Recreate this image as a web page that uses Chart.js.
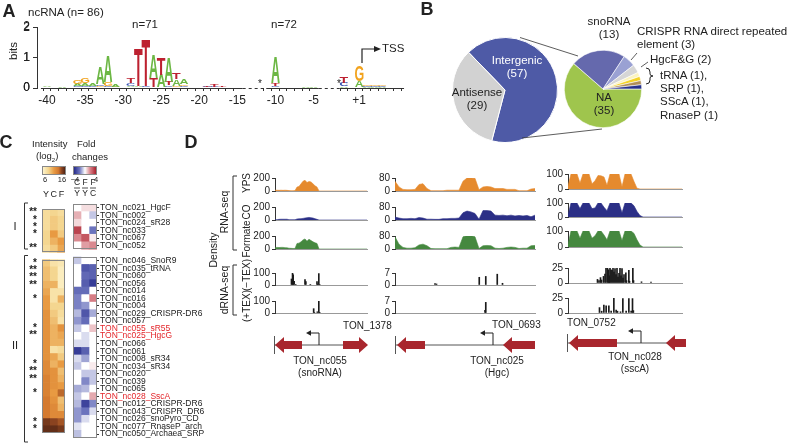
<!DOCTYPE html>
<html>
<head>
<meta charset="utf-8">
<script src="https://cdn.jsdelivr.net/npm/chart.js@4.4.1/dist/chart.umd.min.js"></script>
<style>
  html, body { margin: 0; padding: 0; }
  body { width: 787px; height: 443px; position: relative; overflow: hidden; background: #fff;
         font-family: 'Liberation Sans', Arial, sans-serif; color: #222; }
  canvas { position: absolute; }
  .t { position: absolute; white-space: nowrap; line-height: 1.15; z-index: 2; text-align: center; }
  .cbar { position: absolute; box-sizing: border-box; border: 1px solid #888; }
  #deco { position: absolute; left: 0; top: 0; z-index: 1; }
</style>
</head>
<body>
<svg id="deco" width="787" height="443"></svg>
<script>
// ---- A: promoter motif (bits per position) ----
const logoPos = [-40, -38, -36, -35, -34, -33, -32, -31, -29, -28, -27, -26, -25, -24, -23, -22, -19, -18, -17, -10, -6, -5, -1, 1, 2, 3, 4];
const logoA = [0.02, 0.03, 0.06, 0.08, 0.08, 0.55, 0.85, 0.10, 0.05, 0.04, 0.02, 0.75, 0.42, 0.82, 0.20, 0.15, 0.02, 0.02, 0.02, 0.85, 0.04, 0.03, 0.05, 0.20, 0.02, 0.02, 0.02];
const logoC = [0.01, 0.00, 0.05, 0.06, 0.03, 0.06, 0.05, 0.02, 0.10, 0.03, 0.03, 0.02, 0.02, 0.06, 0.03, 0.05, 0.02, 0.02, 0.00, 0.05, 0.00, 0.00, 0.12, 0.02, 0.02, 0.02, 0.02];
const logoG = [0.00, 0.01, 0.12, 0.18, 0.02, 0.04, 0.12, 0.02, 0.03, 0.00, 0.00, 0.00, 0.00, 0.03, 0.05, 0.06, 0.00, 0.00, 0.00, 0.00, 0.01, 0.01, 0.00, 0.50, 0.02, 0.02, 0.02];
const logoT = [0.01, 0.00, 0.02, 0.02, 0.00, 0.03, 0.03, 0.00, 0.15, 1.25, 1.55, 0.30, 0.55, 0.12, 0.20, 0.02, 0.05, 0.07, 0.05, 0.10, 0.00, 0.00, 0.22, 0.00, 0.01, 0.01, 0.01];
const logoTicks = [-40, -35, -30, -25, -20, -15, -10, -5, 1];
const bitTicks = [0, 1, 2];

// ---- B: ncRNA classes ----
const typeLabels = ['Intergenic', 'Antisense'];
const typeCounts = [57, 29];
const classLabels = ['NA', 'snoRNA', 'CRISPR RNA direct repeated element', 'HgcF&G', 'tRNA', 'SRP', 'SScA', 'RnaseP'];
const classCounts = [35, 13, 3, 2, 1, 1, 1, 1];

// ---- C: heatmap rows ----
const groupI = ['TON_nc021_HgcF', 'TON_nc002', 'TON_nc024_sR28', 'TON_nc033', 'TON_nc067', 'TON_nc052'];
const groupII = ['TON_nc046_SnoR9', 'TON_nc035_tRNA', 'TON_nc060', 'TON_nc056', 'TON_nc014', 'TON_nc016', 'TON_nc004',
  'TON_nc029_CRISPR-DR6', 'TON_nc057', 'TON_nc055_sR55', 'TON_nc025_HgcG', 'TON_nc066', 'TON_nc061', 'TON_nc008_sR34',
  'TON_nc034_sR34', 'TON_nc020', 'TON_nc039', 'TON_nc065', 'TON_nc028_SscA', 'TON_nc012_CRISPR-DR6',
  'TON_nc043_CRISPR_DR6', 'TON_nc026_snoPyro_CD', 'TON_nc077_RnaseP_arch', 'TON_nc050_Archaea_SRP'];
const starsI = ['**', '*', '*', '*', '', '**'];
const starsII = ['*', '**', '**', '**', '', '*', '', '', '', '*', '**', '', '', '', '*', '**', '**', '', '*', '', '', '', '*', '*'];
const redRows = ['TON_nc055_sR55', 'TON_nc025_HgcG', 'TON_nc028_SscA'];
// log2 intensity: YPS, CO, Formate
const intY = [8, 8, 8, 8.5, 8.5, 8, 9, 9.5, 9.5, 10, 10.5, 11, 11, 11.5, 11.5, 11.5, 11.5, 11.5, 11.5, 11.5, 12, 12, 12.5, 12.5, 12.5, 13, 13, 13, 15, 15.5];
const intC = [8.5, 9, 9, 11, 10, 9, 7.5, 8.5, 8.5, 10, 7.5, 7.5, 8.5, 9, 9.5, 10, 10, 10, 7.5, 10.5, 10, 11.5, 11.5, 11.5, 11, 11.5, 12, 12, 14.5, 15.5];
const intF = [8, 8.5, 8.5, 9, 11, 10.5, 7, 6.5, 6.5, 6.5, 7.5, 10, 8.5, 8, 7.5, 11.5, 10.5, 10, 8, 9, 11, 9.5, 10, 11, 13.5, 9.5, 10, 12, 14, 15];
// log2 fold changes: C/Y, F/Y, F/C
const foldCY = [0, 1.2, 0.6, 3.2, 1.8, 0, -0.8, 0, 0, 0, -2.2, -1.8, -1.8, -1, -1.5, -0.8, 0, -0.5, -3.5, -0.5, -0.8, 0, 0, -1.2, -0.8, -1, -1.5, -1.5, -0.4, -0.9];
const foldFY = [0.5, 0, 0, 0, 2.8, 1.5, 0, -2.8, -2.3, -2.6, -2.2, 0, -1.5, -2.8, -2.2, 0, -0.5, -0.5, -2.5, -1.3, 0, -0.8, -1.7, -1, 0, -3.3, -2, -0.5, 0, 0];
const foldFC = [0.5, -0.8, 0, -2, 0.3, 1.8, 0, -2.5, -2.5, -3.5, 0, 2, 0, -1.2, 0, 0.9, 0, 0, 0, 0, 0.3, -0.8, -0.8, 0, 1.3, -1.7, -0.5, 0, 0, 0];

// ---- D: coverage tracks (x = relative position along the locus) ----
const c1YPS = [12, 12, 10, 12, 10, 12, 10, 6, 5, 5, 6, 60, 70, 110, 150, 165, 130, 145, 140, 110, 80, 60, 0, 0, 0, 0, 0, 0, 0, 0, 0, 0, 0, 0, 0, 0, 0, 0, 0, 0, 0, 0, 0, 0, 0, 0, 0];
const c1CO = [5, 5, 10, 12, 12, 12, 12, 5, 5, 5, 5, 15, 18, 20, 25, 30, 35, 40, 35, 30, 20, 10, 0, 0, 0, 0, 0, 0, 0, 0, 0, 0, 0, 0, 0, 0, 0, 0, 0, 0, 0, 0, 0, 0, 0, 0, 0];
const c1Form = [20, 25, 22, 25, 25, 20, 18, 12, 10, 8, 8, 85, 90, 110, 140, 155, 120, 150, 130, 110, 95, 85, 0, 0, 0, 0, 0, 0, 0, 0, 0, 0, 0, 0, 0, 0, 0, 0, 0, 0, 0, 0, 0, 0, 0, 0, 0];
const c1MinusPos = [1.7, 3.3, 4.3, 5.7, 8, 22, 23.3, 30, 40, 41, 42.7, 44];
const c1MinusVal = [50, 100, 85, 30, 5, 45, 28, 5, 28, 8, 95, 4];
const c1PlusPos = [35, 36, 40.5, 42.7, 44];
const c1PlusVal = [36, 5, 10, 100, 6];

const c2YPS = [60, 25, 10, 8, 8, 10, 40, 45, 15, 2, 2, 2, 2, 5, 5, 5, 5, 60, 80, 80, 78, 8, 25, 28, 25, 15, 15, 15, 10, 10, 10, 2, 2, 2, 12, 15];
const c2CO = [18, 12, 8, 8, 10, 8, 15, 12, 5, 5, 4, 4, 8, 8, 10, 10, 12, 45, 55, 50, 40, 5, 58, 58, 55, 30, 28, 30, 26, 30, 25, 28, 25, 28, 20, 30];
const c2Form = [75, 30, 10, 5, 5, 8, 25, 30, 20, 3, 2, 2, 2, 2, 10, 12, 10, 75, 82, 82, 75, 3, 20, 22, 20, 5, 3, 5, 10, 12, 10, 3, 5, 5, 20, 22];
const c2MinusPos = [30, 32, 89, 97.7, 113, 120];
const c2MinusVal = [0.8, 0.6, 4.5, 5, 6.3, 1];
const c2PlusPos = [96.7, 97.7];
const c2PlusVal = [1.5, 6.2];

const c3YPS = [20, 100, 100, 100, 40, 100, 100, 100, 35, 55, 90, 88, 80, 25, 100, 100, 100, 100, 15, 100, 100, 100, 50, 5, 0, 0, 0, 0, 0, 0, 0, 0, 0, 0, 0, 0, 0, 0, 0];
const c3CO = [15, 100, 100, 100, 60, 100, 100, 100, 60, 65, 100, 100, 70, 45, 100, 100, 100, 100, 30, 100, 100, 100, 80, 40, 10, 0, 0, 0, 0, 0, 0, 0, 0, 0, 0, 0, 0, 0, 0];
const c3Form = [15, 100, 100, 100, 55, 100, 100, 100, 55, 70, 100, 100, 75, 45, 100, 100, 100, 100, 40, 100, 100, 100, 85, 45, 12, 0, 0, 0, 0, 0, 0, 0, 0, 0, 0, 0, 0, 0, 0];
const c3MinusPos = [2, 5, 8, 10, 14, 17, 19, 22, 24, 25.5, 27, 29, 31, 33, 35, 37, 39, 41, 43, 45, 47, 49, 51, 53, 55, 58.7, 60, 64.7, 66, 72.7, 74, 90, 109];
const c3MinusVal = [6, 4, 9, 5, 11, 15, 25, 25, 22, 12, 25, 22, 21, 25, 18, 24, 14, 25, 10, 16, 25, 12, 24, 8, 14, 17, 4, 21, 3, 25, 4, 2, 1.5];
const c3PlusPos = [6, 10.3, 14.7, 19.3, 24.7, 29.3, 34.7, 39.3, 42, 48, 52.7, 59.3, 64.7, 69.3, 72, 73.7];
const c3PlusVal = [9, 3, 13, 12, 12, 3, 25, 5, 3, 2, 24, 3, 24, 3, 24, 4];

const trackMax = [[200, 200, 200, 100, 100], [80, 80, 80, 7, 7], [100, 100, 100, 25, 25]];

// ------------------------------------------------------------------
const FONT = "'Liberation Sans', Arial, sans-serif";
Chart.defaults.font.family = FONT;
Chart.defaults.color = '#222';

function base(opts) {
  return Object.assign({
    responsive: false, animation: false, devicePixelRatio: 1,
    plugins: { legend: { display: false }, tooltip: { enabled: false } }
  }, opts);
}

function canvasAt(x, y, w, h) {
  const c = document.createElement('canvas');
  c.width = w; c.height = h;
  c.style.left = x + 'px'; c.style.top = y + 'px';
  document.body.appendChild(c);
  return c.getContext('2d');
}

function label(html, x, y, size, opts = {}) {
  const d = document.createElement('div');
  d.className = 't';
  d.innerHTML = html;
  d.style.left = x + 'px'; d.style.top = y + 'px'; d.style.fontSize = size + 'px';
  const tx = opts.align === 'left' ? '0' : opts.align === 'right' ? '-100%' : '-50%';
  d.style.transform = `translate(${tx},-50%)` + (opts.rot ? ` rotate(${opts.rot}deg)` : '');
  if (opts.align === 'left') d.style.textAlign = 'left';
  if (opts.color) d.style.color = opts.color;
  if (opts.bold) d.style.fontWeight = 'bold';
  document.body.appendChild(d);
}

// ================= A =================
const logoColor = { A: '#6cb744', C: '#3651b0', G: '#f2a31e', T: '#bd2130' };
const stacks = [[], [], [], []];
logoPos.forEach((p, i) => {
  [['A', logoA[i]], ['C', logoC[i]], ['G', logoG[i]], ['T', logoT[i]]]
    .sort((a, b) => a[1] - b[1])
    .forEach(([l, v], r) => stacks[r].push({ x: p, y: v, l }));
});

// paint each stacked bar as a stretched nucleotide letter
const letterPlugin = {
  id: 'letters',
  afterDatasetsDraw(chart) {
    const ctx = chart.ctx;
    ctx.save();
    ctx.font = 'bold 100px ' + FONT;
    ctx.textAlign = 'left';
    ctx.textBaseline = 'alphabetic';
    chart.data.datasets.forEach((ds, d) => {
      chart.getDatasetMeta(d).data.forEach((bar, i) => {
        const { x, y, base: b, width } = bar.getProps(['x', 'y', 'base', 'width'], true);
        const h = b - y;
        if (h < 0.4) return;
        const l = ds.data[i].l;
        const m = ctx.measureText(l);
        const gw = m.actualBoundingBoxLeft + m.actualBoundingBoxRight;
        const gh = m.actualBoundingBoxAscent + m.actualBoundingBoxDescent;
        ctx.save();
        ctx.translate(x - width / 2, y);
        ctx.scale(width / gw, h / gh);
        ctx.fillStyle = logoColor[l];
        ctx.fillText(l, m.actualBoundingBoxLeft, m.actualBoundingBoxAscent);
        ctx.restore();
      });
    });
    // x axis with dashed gaps where the spacer varies
    const xs = chart.scales.x, ys = chart.scales.y;
    const yb = Math.round(ys.getPixelForValue(0)) + 0.5;
    const seg = (a, b2, dash) => {
      ctx.beginPath(); ctx.setLineDash(dash);
      ctx.moveTo(xs.getPixelForValue(a), yb); ctx.lineTo(xs.getPixelForValue(b2), yb); ctx.stroke();
    };
    ctx.strokeStyle = '#333'; ctx.lineWidth = 1;
    seg(xs.min, -14.3, []); seg(-14.3, -11.2, [3, 3]); seg(-11.2, -4.3, []); seg(-4.3, -1.6, [3, 3]); seg(-1.6, xs.max, []);
    ctx.setLineDash([]);
    ctx.restore();
  }
};

const inGap = v => (v > -14.5 && v < -11) || (v > -4.5 && v < -1);
const logoChart = new Chart(canvasAt(0, 17, 410, 89), {
  type: 'bar',
  data: { datasets: stacks.map(r => ({ data: r, backgroundColor: 'rgba(0,0,0,0)', barThickness: 8.5, borderWidth: 0 })) },
  options: base({
    layout: { padding: { top: 9, right: 2 } },
    scales: {
      x: {
        type: 'linear', stacked: true, min: -40.8, max: 6.9,
        afterFit(s) { s.height = 18; },
        ticks: {
          stepSize: 1, autoSkip: false, maxRotation: 0, includeBounds: false, padding: 2,
          font: { size: 12 }, color: '#222',
          callback: v => { const r = Math.round(v); return logoTicks.includes(r) ? (r > 0 ? '+' + r : String(r)) : ''; }
        },
        grid: { drawOnChartArea: false, tickLength: 3, color: c => (c.tick && inGap(c.tick.value)) ? 'rgba(0,0,0,0)' : '#333' },
        border: { display: false }
      },
      y: {
        stacked: true, min: 0, max: 2,
        afterFit(s) { s.width = 37; },
        afterBuildTicks(s) { s.ticks = bitTicks.map(value => ({ value })); },
        ticks: { autoSkip: false, font: { size: 12 }, color: '#222', padding: 3 },
        grid: { drawOnChartArea: false, tickLength: 4, color: '#333' },
        border: { color: '#333' }
      }
    }
  }),
  plugins: [letterPlugin]
});
// bit labels placed on the y scale positions (kept as page text so they stay on top)
bitTicks.forEach(v => label(String(v), 30, 17 + logoChart.scales.y.getPixelForValue(v), 12, { align: 'right' }));

label('A', 9, 11, 18, { bold: true });
label('ncRNA (n= 86)', 28, 13, 11.5, { align: 'left' });
label('n=71', 145, 25, 11.5);
label('n=72', 284, 25, 11.5);
label('bits', 14, 51, 11.5, { rot: -90 });
label('*', 260, 84, 10);
label('*', 339, 84, 10);
label('TSS', 382, 49, 11.5, { align: 'left' });

// ================= B =================
new Chart(canvasAt(450, 35, 110, 110), {
  type: 'pie',
  data: { labels: typeLabels, datasets: [{ data: typeCounts, backgroundColor: ['#4e5aa6', '#d2d2d2'], borderColor: '#fff', borderWidth: 1 }] },
  options: base({ rotation: 316, layout: { padding: 2 } })
});
new Chart(canvasAt(562, 48, 82, 82), {
  type: 'pie',
  data: {
    labels: classLabels,
    datasets: [{
      data: classCounts,
      backgroundColor: ['#9fc54d', '#6569ad', '#9aa1d3', '#d6d6d6', '#fbf3c0', '#f3d226', '#b08f58', '#27318c'],
      borderColor: '#fff', borderWidth: 0.6
    }]
  },
  options: base({ rotation: 90, layout: { padding: 2 } })
});

label('B', 427, 9, 18, { bold: true });
label(`${typeLabels[0]}<br>(${typeCounts[0]})`, 517, 67, 11.5, { color: '#fff' });
label(`${typeLabels[1]}<br>(${typeCounts[1]})`, 477, 99, 11.5);
label(`${classLabels[0]}<br>(${classCounts[0]})`, 604, 104, 11.5);
label(`${classLabels[1]}<br>(${classCounts[1]})`, 609, 28, 11.5);
label(`CRISPR RNA direct repeated<br>element (${classCounts[2]})`, 637, 38, 11.5, { align: 'left' });
label(`${classLabels[3].replace('&', '&amp;')} (${classCounts[3]})`, 650, 60, 11.5, { align: 'left' });
label(`${classLabels[4]} (${classCounts[4]}),<br>${classLabels[5]} (${classCounts[5]}),<br>${classLabels[6]} (${classCounts[6]}),<br>${classLabels[7]} (${classCounts[7]})`,
  660, 95, 11.5, { align: 'left' });

// ================= C =================
const rows = [...groupI, '', ...groupII];
const stars = [...starsI, '', ...starsII];
const withGap = arr => [...arr.slice(0, groupI.length), null, ...arr.slice(groupI.length)];

function ramp(stops, t) {
  t = Math.max(0, Math.min(1, t));
  for (let i = 1; i < stops.length; i++) {
    if (t <= stops[i][0]) {
      const [t0, c0] = stops[i - 1], [t1, c1] = stops[i];
      const f = (t - t0) / (t1 - t0);
      const rgb = [0, 1, 2].map(k => Math.round(c0[k] + (c1[k] - c0[k]) * f));
      return `rgb(${rgb.join(',')})`;
    }
  }
  return `rgb(${stops[stops.length - 1][1].join(',')})`;
}
const intStops = [[0, [253, 243, 203]], [0.25, [244, 214, 144]], [0.5, [232, 154, 66]], [0.7, [212, 122, 48]], [0.85, [138, 67, 32]], [1, [78, 36, 20]]];
const foldStops = [[0, [38, 43, 138]], [0.25, [107, 115, 189]], [0.5, [255, 255, 255]], [0.75, [214, 124, 132]], [1, [168, 31, 44]]];
const intColor = v => v == null ? 'rgba(0,0,0,0)' : ramp(intStops, (v - 6) / 10);
const foldColor = v => v == null ? 'rgba(0,0,0,0)' : ramp(foldStops, (v + 4) / 8);

const groupBox = {
  id: 'groupBox',
  afterDatasetsDraw(chart) {
    const ys = chart.scales.y, a = chart.chartArea, ctx = chart.ctx;
    const step = ys.getPixelForValue(1) - ys.getPixelForValue(0);
    ctx.save(); ctx.strokeStyle = '#888'; ctx.lineWidth = 1;
    [[0, groupI.length - 1], [groupI.length + 1, rows.length - 1]].forEach(([s, e]) => {
      const t = ys.getPixelForValue(s) - step / 2, b = ys.getPixelForValue(e) + step / 2;
      ctx.strokeRect(a.left + 0.5, Math.round(t) + 0.5, a.right - a.left - 1, Math.round(b - t) - 1);
    });
    ctx.restore();
  }
};

function heatDatasets(cols, colorFn) {
  return cols.map(arr => ({
    data: withGap(arr).map(v => v == null ? null : 1),
    backgroundColor: withGap(arr).map(colorFn),
    barPercentage: 1, categoryPercentage: 1, borderWidth: 0
  }));
}

new Chart(canvasAt(0, 198, 66, 246), {
  type: 'bar',
  data: { labels: rows, datasets: heatDatasets([intY, intC, intF], intColor) },
  options: base({
    indexAxis: 'y',
    layout: { padding: { top: 4.5, right: 1 } },
    scales: {
      x: { stacked: true, display: false, min: 0, max: 3 },
      y: {
        stacked: true, afterFit(s) { s.width = 42; },
        grid: { display: false, drawTicks: false }, border: { display: false },
        ticks: { autoSkip: false, padding: 5, font: { size: 10, weight: 'bold' }, color: '#222', callback: (v, i) => stars[i] }
      }
    }
  }),
  plugins: [groupBox]
});

new Chart(canvasAt(66, 198, 160, 246), {
  type: 'bar',
  data: { labels: rows, datasets: heatDatasets([foldCY, foldFY, foldFC], foldColor) },
  options: base({
    indexAxis: 'y',
    layout: { padding: { top: 4.5, left: 7 } },
    scales: {
      x: { stacked: true, display: false, min: 0, max: 3 },
      y: {
        stacked: true, position: 'right', afterFit(s) { s.width = 129; },
        grid: { drawOnChartArea: false, offset: false, tickLength: 2, color: c => rows[c.index] ? '#333' : 'rgba(0,0,0,0)' },
        border: { display: false },
        ticks: {
          autoSkip: false, padding: 1, font: { size: 8.5 },
          color: c => redRows.includes(rows[c.index]) ? '#e3262b' : '#222',
          callback: (v, i) => rows[i]
        }
      }
    }
  }),
  plugins: [groupBox]
});

label('C', 6, 142, 18, { bold: true });
label('Intensity', 32, 144, 9.5, { align: 'left' });
label('(log<sub style="font-size:6px">2</sub>)', 36, 157, 9.5, { align: 'left' });
label('Fold', 77, 144, 9.5, { align: 'left' });
label('changes', 72, 157, 9.5, { align: 'left' });
function cbar(x, y, w, h, grad) {
  const d = document.createElement('div');
  d.className = 'cbar';
  Object.assign(d.style, { left: x + 'px', top: y + 'px', width: w + 'px', height: h + 'px', background: grad });
  document.body.appendChild(d);
}
cbar(42, 166, 24, 9, 'linear-gradient(to right, rgb(253,243,203), rgb(244,214,144) 25%, rgb(232,154,66) 50%, rgb(212,122,48) 70%, rgb(138,67,32) 85%, rgb(78,36,20))');
cbar(73, 166, 24, 9, 'linear-gradient(to right, rgb(38,43,138), rgb(107,115,189) 25%, #fff 50%, rgb(214,124,132) 75%, rgb(168,31,44))');
label('6', 45, 180, 7.5); label('16', 62, 180, 7.5);
label('\u22124', 75, 180, 7.5); label('4', 96, 180, 7.5);
['Y', 'C', 'F'].forEach((s, i) => label(s, 46 + i * 7.7, 194, 9));
['C', 'F', 'F'].forEach((s, i) => label(s, 77 + i * 8, 183, 8.5));
['Y', 'Y', 'C'].forEach((s, i) => label(s, 77 + i * 8, 193.5, 8.5));
label('I', 15, 226, 11);
label('II', 15, 345, 11);

// ================= D =================
const colLeft = [275, 395, 568];
const colWidth = [92, 140, 114];
const trackTop = [[177, 206, 235, 272, 300], [177, 206, 235, 272, 300], [173, 202, 230, 267, 297]];
const trackBase = [[192, 221, 250, 286, 314], [192, 221, 250, 286, 314], [190, 218, 248, 284, 314]];
const trackColor = ['#e58a2e', '#2b2f86', '#45883f', '#1a1a1a', '#1a1a1a'];
const PAD = 7;

function track(ci, ti, type, xs, ys) {
  const x0 = colLeft[ci], w = colWidth[ci];
  const top = trackTop[ci][ti], bot = trackBase[ci][ti], max = trackMax[ci][ti];
  const color = trackColor[ti];
  const pts = xs.map((x, i) => ({ x, y: ys[i] }));
  const ds = type === 'line'
    ? { data: pts, fill: 'origin', backgroundColor: color, borderColor: color, borderWidth: 0.6, pointRadius: 0, tension: 0 }
    : { data: pts, backgroundColor: color, barThickness: 1, borderWidth: 0 };
  new Chart(canvasAt(x0 - 30, top - PAD, w + 32, bot - top + 2 * PAD), {
    type,
    data: { datasets: [ds] },
    options: base({
      layout: { padding: { top: PAD, right: 2, bottom: PAD } },
      scales: {
        x: { type: 'linear', min: 0, max: w, ticks: { display: false }, grid: { display: false }, border: { color: '#999' }, afterFit(s) { s.height = 0; } },
        y: {
          min: 0, max,
          afterBuildTicks(s) { s.ticks = [{ value: 0 }, { value: max }]; },
          afterFit(s) { s.width = 30; },
          ticks: { autoSkip: false, font: { size: 10 }, padding: 2, color: '#222' },
          grid: { drawOnChartArea: false, tickLength: 3, color: '#333' },
          border: { color: '#333' }
        }
      }
    })
  });
}
const idx = (arr, w) => arr.map((_, i) => i * w / (arr.length - 1));
[[c1YPS, c1CO, c1Form, c1MinusPos, c1MinusVal, c1PlusPos, c1PlusVal],
 [c2YPS, c2CO, c2Form, c2MinusPos, c2MinusVal, c2PlusPos, c2PlusVal],
 [c3YPS, c3CO, c3Form, c3MinusPos, c3MinusVal, c3PlusPos, c3PlusVal]].forEach((c, ci) => {
  track(ci, 0, 'line', idx(c[0], colWidth[ci]), c[0]);
  track(ci, 1, 'line', idx(c[1], colWidth[ci]), c[1]);
  track(ci, 2, 'line', idx(c[2], colWidth[ci]), c[2]);
  track(ci, 3, 'bar', c[3], c[4]);
  track(ci, 4, 'bar', c[5], c[6]);
});

label('D', 191, 142, 18, { bold: true });
label('Density', 213, 250, 10.5, { rot: -90 });
label('RNA-seq', 224, 212, 10.5, { rot: -90 });
label('dRNA-seq', 224, 290, 10.5, { rot: -90 });
label('YPS', 247, 183, 10, { rot: -90 });
label('CO', 247, 212, 10, { rot: -90 });
label('Formate', 247, 239, 10, { rot: -90 });
label('(\u2212TEX)', 247, 275, 10, { rot: -90 });
label('(+TEX)', 247, 306, 10, { rot: -90 });
label('TON_1378', 343, 326, 10, { align: 'left' });
label('TON_0693', 492, 325, 10, { align: 'left' });
label('TON_0752', 567, 323, 10, { align: 'left' });
label('TON_nc055<br>(snoRNA)', 320, 366, 10);
label('TON_nc025<br>(Hgc)', 497, 366, 10);
label('TON_nc028<br>(sscA)', 635, 362, 10);

// ================= decorations =================
let s = '';
const ln = (x1, y1, x2, y2, w = 1, c = '#333') => { s += `<line x1="${x1}" y1="${y1}" x2="${x2}" y2="${y2}" stroke="${c}" stroke-width="${w}"/>`; };
const pth = (d, w = 1, c = '#333') => { s += `<path d="${d}" fill="none" stroke="${c}" stroke-width="${w}"/>`; };
const poly = (pts, c) => { s += `<polygon points="${pts}" fill="${c}"/>`; };
function geneArrow(tip, end, yc) {
  const hx = tip + (end > tip ? 9 : -9);
  poly(`${tip},${yc} ${hx},${yc - 8} ${hx},${yc - 4} ${end},${yc - 4} ${end},${yc + 4} ${hx},${yc + 4} ${hx},${yc + 8}`, '#a8262d');
}
function tss(x, yLine, yTop, xEnd) {
  pth(`M${x} ${yLine} V${yTop} H${xEnd + 4}`, 1, '#222');
  poly(`${xEnd},${yTop} ${xEnd + 5},${yTop - 2.8} ${xEnd + 5},${yTop + 2.8}`, '#222');
}
// A: TSS marker
pth('M362 63 V49 H375', 1.2, '#222');
poly('381,49 374,46 374,52', '#222');
// B: zoom lines, leaders, brace
ln(520, 37.5, 578, 56, 0.8);
ln(522, 138, 602, 129, 0.8);
ln(637, 53, 631, 60, 0.8);
ln(648, 62, 641, 67, 0.8);
pth('M646 68 Q650 68 650 72 L650 74 Q650 76 653 76 Q650 76 650 78 L650 80 Q650 84 646 84', 1, '#222');
// C: group brackets, header underlines
pth('M28 203 H24.5 V249 H28');
pth('M28 255.5 H24.5 V442 H28');
[0, 1, 2].forEach(i => ln(74 + i * 8, 188, 80 + i * 8, 188, 0.8, '#222'));
// D: brackets
pth('M237 176 H233 V250 H237');
pth('M237 265 H233 V315 H237');
// D: gene maps
ln(275, 345, 367, 345, 1, '#555'); ln(274.5, 336, 274.5, 354, 1, '#555');
geneArrow(275, 302, 345); geneArrow(368, 343, 345); tss(319, 345, 333, 306);
ln(396, 345, 535, 345, 1, '#555'); ln(395.5, 336, 395.5, 354, 1, '#555');
geneArrow(397, 425, 345); geneArrow(503, 535, 345); tss(493, 345, 333, 480);
ln(568, 343, 686, 343, 1, '#555'); ln(567.5, 334, 567.5, 352, 1, '#555');
geneArrow(569, 617, 343); geneArrow(666, 686, 343); tss(641, 343, 331, 628);
document.getElementById('deco').innerHTML = s;
</script>
</body>
</html>
